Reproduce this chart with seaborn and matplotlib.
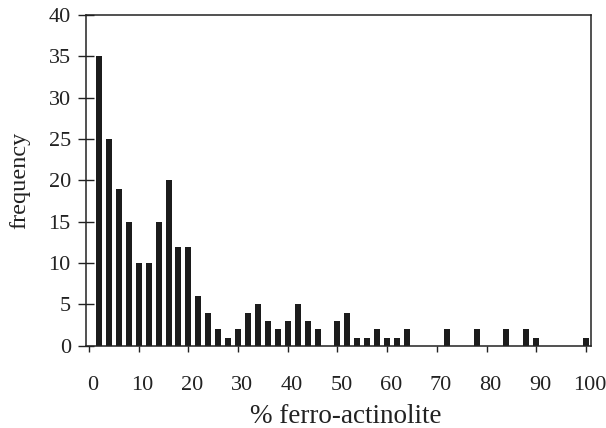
import numpy as np
import pandas as pd
import matplotlib
matplotlib.use("Agg")
import matplotlib.pyplot as plt
import matplotlib.transforms as mtransforms
import seaborn as sns

# Histogram of ferro-actinolite content (2 % classes)
percent = list(range(2, 101, 2))
frequency = [35, 25, 19, 15, 10, 10, 15, 20, 12, 12,
             6, 4, 2, 1, 2, 4, 5, 3, 2, 3,
             5, 3, 2, 0, 3, 4, 1, 1, 2, 1,
             1, 2, 0, 0, 0, 2, 0, 0, 2, 0,
             0, 2, 0, 2, 1, 0, 0, 0, 0, 1]
x_ticks = list(range(0, 101, 10))
y_ticks = list(range(0, 41, 5))

df = pd.DataFrame({"percent": percent, "frequency": frequency})

sns.set_style("ticks")
plt.rcParams["font.family"] = ["Liberation Serif", "DejaVu Serif"]

fig = plt.figure(figsize=(6.06, 4.28), dpi=100)
ax = fig.add_axes([0.142, 0.192, 0.833, 0.773])

sns.barplot(data=df, x="percent", y="frequency", native_scale=True,
            width=0.6, color="#1c1c1c", saturation=1, errorbar=None,
            edgecolor="none", linewidth=0, ax=ax)

ax.set_xlim(-0.6, 101)
ax.set_ylim(0, 40)
ax.set_xticks(x_ticks)
ax.set_xticklabels([str(t) for t in x_ticks])
ax.set_yticks(y_ticks)
ax.set_yticklabels([str(t) for t in y_ticks])

for s in ax.spines.values():
    s.set_visible(True)
    s.set_linewidth(1.1)
    s.set_color("#222222")

ax.tick_params(axis="x", direction="out", length=4.5, width=1.0,
               labelsize=16, pad=17, colors="#222222")
ax.tick_params(axis="y", direction="inout", length=12, width=1.0,
               labelsize=16, pad=5, colors="#222222")

# nudge the x tick labels slightly to the right of their marks
offset = mtransforms.ScaledTranslation(4 / 100, 0, fig.dpi_scale_trans)
for lbl in ax.get_xticklabels():
    lbl.set_transform(lbl.get_transform() + offset)

ax.set_xlabel("% ferro-actinolite", fontsize=19.5, labelpad=7, color="#222222")
ax.xaxis.label.set_x(0.514)
ax.set_ylabel("frequency", fontsize=17.5, labelpad=13, color="#222222")

fig.savefig("out.png", dpi=100, facecolor="white")
